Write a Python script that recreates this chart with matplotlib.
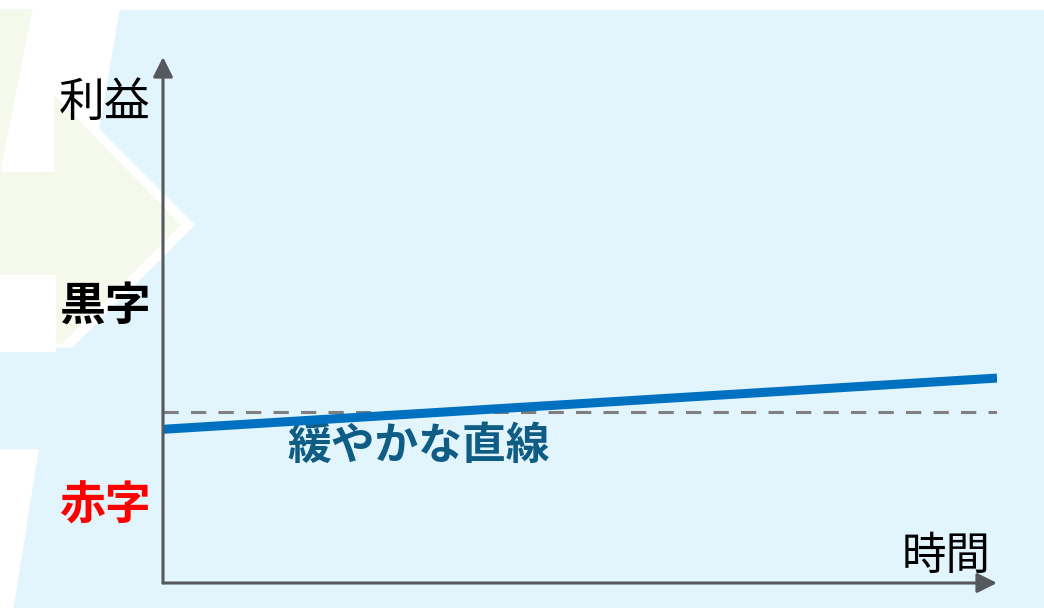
import numpy as np
import matplotlib.pyplot as plt
from matplotlib.patches import Polygon, Rectangle

plt.rcParams['font.family'] = ['Noto Sans CJK JP', 'DejaVu Sans']

# data (profit over time, break-even = 0)
time = [0.0, 1.0]
profit = [-0.10, 0.20]
breakeven = [0.0, 0.0]
y_min, y_max = -1.0, 2.08

axis_label_y = '利益'
axis_label_x = '時間'
label_black = '黒字'
label_red = '赤字'
line_label = '緩やかな直線'

W, H = 1044, 608
fig = plt.figure(figsize=(W / 100, H / 100), dpi=100)

# decorative background (pixel coords)
bg = fig.add_axes([0, 0, 1, 1], zorder=0)
bg.set_xlim(0, W)
bg.set_ylim(H, 0)
bg.axis('off')
bg.add_patch(Rectangle((0, 0), W, H, color='white'))
bg.add_patch(Rectangle((0, 10), W, H - 10, color='#e2f4fc'))
green = '#f5f9eb'
bg.add_patch(Polygon([(0, 10), (33, 10), (1, 172), (0, 172)], color=green))
bg.add_patch(Polygon([(33, 10), (119, 10), (95, 150), (55, 150), (55, 172), (1, 172)],
                     color='white'))
# arrow shape with white outline
bg.add_patch(Polygon([(55, 86), (194, 225), (72, 347), (55, 347)], color='white'))
bg.add_patch(Polygon([(55, 97), (180, 225), (62, 343), (55, 343)], color=green))
bg.add_patch(Rectangle((0, 172), 56, 103, color=green))
bg.add_patch(Rectangle((0, 275), 55, 76, color='white'))
bg.add_patch(Polygon([(0, 450), (38, 450), (13, 608), (0, 608)], color='white'))

# main chart
ax = fig.add_axes([163 / W, 25 / H, 834 / W, 526 / H], zorder=1)
ax.set_xlim(0, 1)
ax.set_ylim(y_min, y_max)
ax.axis('off')
ax.patch.set_alpha(0)

ax.plot(time, breakeven, color='#7f7f7f', lw=2.2, ls=(0, (5, 4)), zorder=2)
ax.plot(time, profit, color='#0070c0', lw=6.5, solid_capstyle='butt', zorder=3)

axis_col = '#55585d'
arrow = dict(arrowstyle='-|>,head_length=0.6,head_width=0.3', color=axis_col,
             lw=2.2, mutation_scale=20, shrinkA=0, shrinkB=0)
ax.annotate('', xy=(0, 1), xytext=(0, 0), xycoords='axes fraction', arrowprops=arrow)
ax.annotate('', xy=(1, 0), xytext=(0, 0), xycoords='axes fraction', arrowprops=arrow)

# labels
bg.text(105, 103, axis_label_y, fontsize=33, ha='center', va='center', color='black')
bg.text(105, 307, label_black, fontsize=33, ha='center', va='center', color='black',
        fontweight='bold')
bg.text(105, 507, label_red, fontsize=33, ha='center', va='center', color='#ff0000',
        fontweight='bold')
bg.text(946, 556, axis_label_x, fontsize=32, ha='center', va='center', color='black')
bg.text(419, 446, line_label, fontsize=31.5, ha='center', va='center', color='#0f5c84',
        fontweight='bold')

fig.savefig('out.png', dpi=100)
